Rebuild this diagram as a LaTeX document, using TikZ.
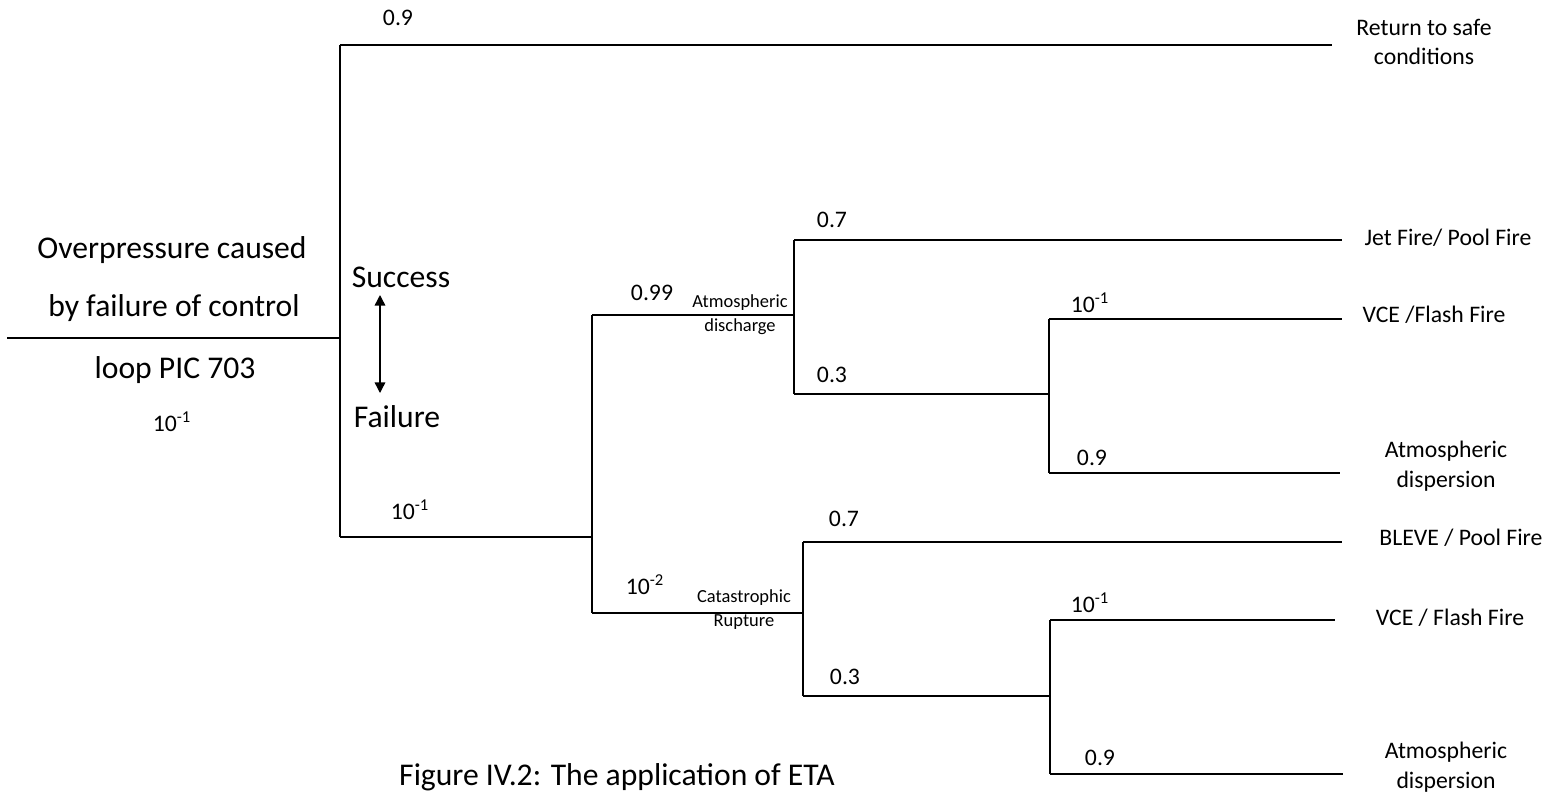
\documentclass[tikz,border=0pt]{standalone}
\usepackage{fontspec}
\setmainfont{Carlito}
\usetikzlibrary{arrows.meta, positioning}
\tikzset{
    % Line styles
    branch/.style={
        draw=black,
        line width=0.9pt
    },
    bothways/.style={
        {Triangle[width=6pt,length=6pt]}-{Triangle[width=6pt,length=6pt]},
        line width=0.8pt
    },
    % Text styles
    problabel/.style={
        inner sep=0pt,
        font=\fontsize{13.5}{16}\selectfont
    },
    outcome/.style={
        inner sep=0pt,
        align=center,
        font=\fontsize{13.5}{17}\selectfont
    },
    eventlabel/.style={
        inner sep=0pt,
        align=center,
        font=\fontsize{10.5}{13.6}\selectfont
    },
    headtext/.style={
        inner sep=0pt,
        font=\fontsize{18}{21}\selectfont
    }
}

\begin{document}
\begin{tikzpicture}[x=0.02cm, y=-0.02cm]
    \useasboundingbox (0,0) rectangle (1562,794);

    % Junctions of the tree
    \coordinate (start) at (7,338);
    \coordinate (init) at (340,338);
    \coordinate (inittop) at (340,45);
    \coordinate (initbot) at (340,537);
    \coordinate (relief) at (592,537);
    \coordinate (relieftop) at (592,315);
    \coordinate (reliefbot) at (592,613);
    \coordinate (disch) at (794,315);
    \coordinate (dischtop) at (794,240);
    \coordinate (dischbot) at (794,394);
    \coordinate (dischign) at (1049,394);
    \coordinate (dischigntop) at (1049,319);
    \coordinate (dischignbot) at (1049,473);
    \coordinate (rupt) at (803,613);
    \coordinate (rupttop) at (803,542);
    \coordinate (ruptbot) at (803,696);
    \coordinate (ruptign) at (1050,696);
    \coordinate (ruptigntop) at (1050,620);
    \coordinate (ruptignbot) at (1050,774);

    % Ends of the outcome branches
    \coordinate (safeend) at (1332,45);
    \coordinate (jetend) at (1342,240);
    \coordinate (vceaend) at (1342,319);
    \coordinate (dispaend) at (1340,473);
    \coordinate (bleveend) at (1342,542);
    \coordinate (vcebend) at (1335,620);
    \coordinate (dispbend) at (1343,774);

    % Branches
    \draw[branch] (start) -- (init);
    \draw[branch] (inittop) -- (initbot);
    \draw[branch] (inittop) -- (safeend);
    \draw[branch] (initbot) -- (relief);
    \draw[branch] (relieftop) -- (reliefbot);
    \draw[branch] (relieftop) -- (disch);
    \draw[branch] (reliefbot) -- (rupt);
    \draw[branch] (dischtop) -- (dischbot);
    \draw[branch] (dischtop) -- (jetend);
    \draw[branch] (dischbot) -- (dischign);
    \draw[branch] (dischigntop) -- (dischignbot);
    \draw[branch] (dischigntop) -- (vceaend);
    \draw[branch] (dischignbot) -- (dispaend);
    \draw[branch] (rupttop) -- (ruptbot);
    \draw[branch] (rupttop) -- (bleveend);
    \draw[branch] (ruptbot) -- (ruptign);
    \draw[branch] (ruptigntop) -- (ruptignbot);
    \draw[branch] (ruptigntop) -- (vcebend);
    \draw[branch] (ruptignbot) -- (dispbend);

    % Initiating event
    \node[headtext] (ev1) at (172,250) {Overpressure caused};
    \node[headtext] (ev2) at (174,308) {by failure of control};
    \node[headtext] (ev3) at (175,370) {loop PIC 703};
    \node[problabel] (evprob) at (172,422) {10\textsuperscript{-1}};

    % Success / failure key
    \node[headtext] (success) at (401,277) {Success};
    \node[headtext] (failure) at (397,417) {Failure};
    \coordinate (keyup) at (380,295);
    \coordinate (keydown) at (380,393);
    \draw[bothways] (keyup) -- (keydown);

    % Probabilities
    \node[problabel] (p1) at (398,18) {0.9};
    \node[problabel] (p2) at (410,510) {10\textsuperscript{-1}};
    \node[problabel] (p3) at (652,293) {0.99};
    \node[problabel] (p4) at (645,585) {10\textsuperscript{-2}};
    \node[problabel] (p5) at (832,220) {0.7};
    \node[problabel] (p6) at (832,375) {0.3};
    \node[problabel] (p7) at (1090,303) {10\textsuperscript{-1}};
    \node[problabel] (p8) at (1092,458) {0.9};
    \node[problabel] (p9) at (844,519) {0.7};
    \node[problabel] (p10) at (845,677) {0.3};
    \node[problabel] (p11) at (1090,603) {10\textsuperscript{-1}};
    \node[problabel] (p12) at (1100,758) {0.9};

    % Intermediate events
    \node[eventlabel] (atmdisch) at (740,315) {Atmospheric\\discharge};
    \node[eventlabel] (catrupt) at (744,610) {Catastrophic\\Rupture};

    % Outcomes
    \node[outcome] (safe) at (1424,42) {Return to safe\\conditions};
    \node[outcome] (jet) at (1448,238) {Jet Fire/ Pool Fire};
    \node[outcome] (vcea) at (1434,315) {VCE /Flash Fire};
    \node[outcome] (dispa) at (1446,466) {Atmospheric\\dispersion};
    \node[outcome] (bleve) at (1461,538) {BLEVE / Pool Fire};
    \node[outcome] (vceb) at (1450,618) {VCE / Flash Fire};
    \node[outcome] (dispb) at (1446,767) {Atmospheric\\dispersion};

    % Caption
    \node[headtext] (caption) at (617,777) {Figure IV.2: The application of ETA};
\end{tikzpicture}
\end{document}
